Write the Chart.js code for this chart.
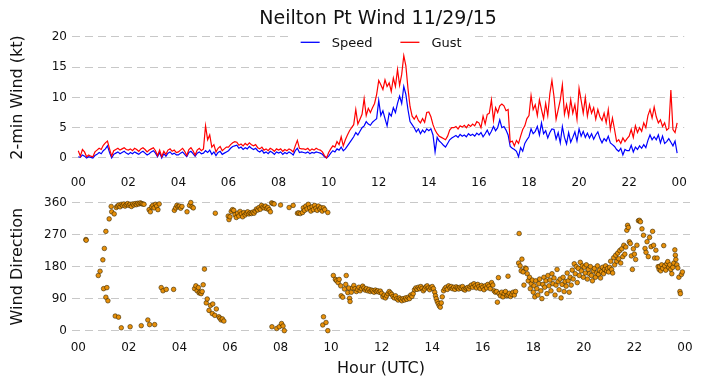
<!DOCTYPE html>
<html>
<head>
<meta charset="utf-8">
<script src="https://cdn.jsdelivr.net/npm/chart.js@4.4.0/dist/chart.umd.min.js"></script>
<style>
  body { margin: 0; background: #fff; }
  #wrap { position: relative; width: 702px; height: 388px; }
  #wind { position: absolute; left: 0; top: 0; }
  #dir { position: absolute; left: 0; top: 185px; }
</style>
</head>
<body>
<div id="wrap">
  <canvas id="wind" width="702" height="190"></canvas>
  <canvas id="dir" width="702" height="203"></canvas>
</div>
<script>
// Neilton Pt wind, 11/29/15 (UTC)

const stepMin = 5   // minutes between speed/gust samples
const hourTicks = [0, 2, 4, 6, 8, 10, 12, 14, 16, 18, 20, 22, 24]
const speedTicks = [0, 5, 10, 15, 20]
const dirTicks = [0, 90, 180, 270, 360]

// 2-min speed (kt), one row per hour
const speed = [
    0.2, 0.1, 0.5, 0.3, 0, 0.2, 0.1, 0, 0.4, 0.6, 0.9, 0.7,
    1.2, 1.5, 2.0, 0.9, 0, 0.6, 0.8, 1.0, 0.7, 0.9, 1.1, 0.8,
    0.6, 0.9, 0.7, 1.0, 0.8, 0.6, 0.9, 1.1, 0.8, 0.5, 0.7, 1.0,
    1.2, 0.8, 0.2, 0.9, 0, 0.7, 0.3, 0.8, 1.0, 0.6, 0.8, 0.5,
    0.5, 0.8, 1.0, 0.6, 0.2, 0.9, 1.1, 0.7, 0.3, 0.8, 1.0, 0.7,
    0.8, 1.2, 0.9, 1.3, 0.6, 1.0, 0.4, 0.9, 1.1, 0.6, 0.8, 1.0,
    1.2, 1.6, 1.9, 2.0, 2.1, 1.6, 1.8, 1.4, 1.7, 1.5, 1.9, 1.6,
    1.4, 1.6, 1.2, 1.0, 1.3, 0.8, 1.0, 0.7, 1.1, 0.9, 0.6, 1.0,
    0.8, 1.0, 0.6, 0.9, 0.7, 1.0, 0.8, 0.5, 1.2, 1.6, 0.9, 1.0,
    0.9, 0.8, 1.0, 0.7, 0.9, 0.8, 1.0, 0.9, 0.8, 0.6, 0.2, 0,
    0.3, 0.8, 1.2, 1.0, 1.5, 1.3, 1.8, 1.2, 1.5, 2.0, 2.5, 3.0,
    3.5, 4.2, 3.8, 4.4, 5.0, 5.3, 6.0, 5.6, 5.4, 5.9, 6.2, 6.5,
    9.5, 7.0, 7.8, 6.5, 5.3, 7.4, 6.9, 8.3, 7.5, 9.0, 10.2, 9.0,
    11.8, 10.5, 8.0, 6.0, 5.5, 5.0, 4.3, 4.8, 4.0, 4.6, 4.2, 4.8,
    4.5, 4.8, 3.8, 1.0, 3.4, 2.8, 2.5, 2.1, 1.8, 2.4, 3.0, 3.3,
    3.5, 3.7, 3.4, 3.9, 3.6, 3.8, 3.5, 4.0, 3.7, 3.9, 3.6, 4.1,
    3.8, 4.2, 3.5, 4.0, 4.6, 3.8, 4.4, 5.2, 4.5, 5.0, 6.3, 5.0,
    5.2, 4.6, 3.8, 1.9, 1.6, 1.4, 1.1, 0.2, 1.7, 1.1, 2.4, 3.0,
    3.5, 4.8, 4.0, 4.4, 5.2, 3.8, 5.8, 4.0, 4.5, 3.3, 4.2, 4.8,
    4.7, 3.1, 4.2, 2.5, 5.2, 3.4, 2.3, 4.2, 2.6, 3.4, 4.3, 2.8,
    4.8, 3.6, 4.4, 3.4, 4.1, 3.3, 4.0, 3.1, 3.8, 4.3, 3.2, 2.5,
    3.2, 2.8, 3.6, 2.5, 2.2, 1.9, 1.4, 1.1, 1.6, 0.5, 1.4, 1.2,
    1.2, 2.1, 1.0, 1.8, 1.4, 2.0, 1.6, 2.2, 1.7, 2.9, 3.8, 3.0,
    3.5, 3.0, 3.8, 2.5, 3.6, 2.4, 2.7, 3.2, 2.6, 2.0, 2.8, 0.8
]

// gust (kt), one row per hour
const gust = [
    1.2, 0.3, 1.4, 1.0, 0.2, 0.5, 0.3, 0.2, 1.0, 1.3, 1.6, 1.4,
    2.1, 2.5, 2.8, 1.5, 0.3, 1.2, 1.4, 1.6, 1.3, 1.5, 1.7, 1.4,
    1.3, 1.5, 1.2, 1.6, 1.4, 1.1, 1.5, 1.7, 1.4, 1.0, 1.3, 1.5,
    1.7, 1.2, 0.4, 1.3, 0.2, 1.1, 0.6, 1.3, 1.5, 1.1, 1.3, 0.9,
    1.0, 1.3, 1.6, 1.1, 0.4, 1.4, 1.7, 1.2, 0.5, 1.3, 1.6, 1.2,
    1.5, 5.3, 3.0, 3.8, 1.8, 2.2, 1.0, 1.6, 1.9, 1.2, 1.5, 1.8,
    1.8, 2.2, 2.5, 2.7, 2.6, 2.1, 2.3, 2.0, 2.4, 2.1, 2.5, 2.2,
    2.0, 2.2, 1.7, 1.5, 1.8, 1.3, 1.5, 1.2, 1.6, 1.4, 1.1, 1.5,
    1.3, 1.5, 1.1, 1.4, 1.2, 1.5, 1.3, 1.0, 2.0, 2.9, 1.6, 1.5,
    1.5, 1.4, 1.6, 1.2, 1.5, 1.3, 1.6, 1.4, 1.3, 1.0, 0.4, 0,
    0.9, 1.5, 2.0, 1.8, 2.7, 2.2, 3.5, 2.0, 3.0, 3.8, 4.5, 5.0,
    5.5, 8.0, 5.6, 6.4, 7.2, 9.8, 7.0, 8.2, 7.5, 8.3, 9.0, 10.5,
    12.8, 12.1, 11.3, 12.9, 11.8, 12.4, 11.0, 13.2, 11.8, 14.6, 12.0, 13.8,
    16.9, 15.2, 11.5, 8.5, 6.9, 6.4, 7.0, 6.2, 5.8, 6.5, 5.9, 7.5,
    7.6, 6.8, 5.5, 4.6, 4.0, 3.6, 3.4, 3.2, 3.0, 3.6, 4.6, 5.0,
    5.0, 5.2, 4.8, 5.3, 5.1, 5.4, 5.0, 5.5, 5.2, 5.6, 5.3, 6.0,
    5.8, 5.0, 6.9, 5.6, 7.2, 7.4, 9.6, 6.2, 8.3, 7.5, 8.6, 8.9,
    8.6, 7.8, 8.0, 2.6, 2.8, 2.0, 2.9, 2.4, 3.6, 4.7, 5.3, 6.5,
    7.0, 10.3, 8.0, 8.8, 7.0, 9.6, 8.0, 6.5, 9.0, 7.0, 10.6, 12.8,
    10.1, 6.4, 8.0, 9.6, 12.1, 7.2, 8.8, 6.9, 9.6, 7.4, 8.8, 6.4,
    11.5, 9.5, 7.4, 10.0, 6.9, 8.8, 7.4, 8.3, 6.4, 8.0, 6.8, 6.2,
    7.4, 5.8, 8.0, 4.7, 6.6, 4.7, 2.7, 3.0, 2.4, 3.3, 2.7, 3.2,
    3.6, 4.7, 3.4, 5.3, 4.2, 5.0, 4.4, 5.8, 5.0, 7.0, 8.0, 6.6,
    8.4, 6.8, 5.8, 6.3, 5.2, 5.8, 4.6, 4.9, 11.2, 4.7, 4.2, 5.8
]

// wind direction readings: [hour UTC, degrees]
const direction = [
    [0.30, 256], [0.31, 254],
    [0.79, 155], [0.86, 167], [0.97, 199], [1.00, 118], [1.03, 231], [1.09, 279], [1.09, 94], [1.13, 121],
    [1.17, 84], [1.22, 314], [1.30, 349], [1.32, 334], [1.42, 328], [1.46, 41], [1.59, 38], [1.70, 8],
    [1.50, 346], [1.55, 350], [1.60, 353], [1.65, 348], [1.70, 355], [1.75, 352], [1.80, 356], [1.85, 350],
    [1.90, 354], [1.95, 357], [2.00, 352], [2.05, 355], [2.10, 349], [2.15, 356], [2.20, 353], [2.25, 357],
    [2.30, 354], [2.35, 358], [2.40, 356], [2.45, 359], [2.50, 357], [2.55, 356], [2.60, 355],
    [2.05, 11], [2.49, 14], [2.75, 30], [2.82, 17], [3.02, 17],
    [2.80, 340], [2.85, 334], [2.90, 348], [2.95, 352], [3.00, 345], [3.05, 355], [3.10, 350], [3.15, 340], [3.20, 356],
    [3.28, 121], [3.35, 112], [3.48, 116], [3.77, 116],
    [3.80, 338], [3.85, 345], [3.90, 352], [3.95, 348], [4.00, 350], [4.05, 344], [4.10, 349],
    [4.30, 334], [4.40, 352], [4.45, 360], [4.50, 348], [4.55, 345],
    [4.60, 118], [4.65, 126], [4.70, 112], [4.75, 121], [4.78, 106], [4.82, 108], [4.86, 104], [4.90, 110],
    [4.94, 129], [4.99, 173],
    [5.06, 78], [5.10, 89], [5.17, 57], [5.23, 71], [5.30, 48], [5.32, 75], [5.40, 43], [5.46, 61],
    [5.56, 39], [5.60, 35], [5.65, 30], [5.70, 33], [5.76, 27],
    [5.42, 330],
    [5.93, 322], [5.96, 312], [6.00, 320], [6.05, 335], [6.10, 340], [6.15, 338], [6.20, 326], [6.25, 318],
    [6.30, 330], [6.35, 322], [6.40, 335], [6.45, 328], [6.50, 320], [6.55, 332], [6.60, 325], [6.65, 330],
    [6.70, 334], [6.75, 328], [6.80, 331], [6.85, 329], [6.90, 333], [6.95, 330], [7.00, 336], [7.05, 342],
    [7.10, 339], [7.15, 346], [7.20, 341], [7.25, 352], [7.30, 347], [7.35, 345], [7.40, 350], [7.45, 343],
    [7.50, 346], [7.55, 340], [7.60, 334], [7.65, 359], [7.70, 357], [7.75, 356],
    [7.66, 11], [7.85, 6], [7.95, 11], [8.04, 20], [8.10, 13], [8.15, 0],
    [8.00, 353], [8.34, 346], [8.50, 352],
    [8.67, 330], [8.72, 331], [8.78, 329], [8.87, 332],
    [8.90, 345], [8.95, 338], [9.00, 350], [9.05, 342], [9.10, 355], [9.15, 345], [9.20, 336], [9.25, 348],
    [9.30, 340], [9.35, 352], [9.40, 344], [9.45, 338], [9.50, 350], [9.55, 342], [9.60, 346], [9.65, 336],
    [9.70, 345], [9.75, 340], [9.87, 332],
    [9.67, 16], [9.70, 39], [9.80, 23], [9.87, 0],
    [10.09, 155], [10.17, 144], [10.22, 140], [10.28, 135], [10.32, 144], [10.38, 126], [10.40, 98], [10.46, 94],
    [10.53, 117], [10.58, 130], [10.60, 155], [10.66, 107], [10.70, 120], [10.73, 91], [10.75, 82], [10.80, 108],
    [10.85, 120], [10.90, 127], [10.95, 118], [11.00, 110], [11.05, 116], [11.10, 122], [11.15, 112], [11.20, 118],
    [11.25, 125], [11.30, 120], [11.35, 114], [11.40, 118], [11.45, 112], [11.50, 116], [11.55, 110], [11.60, 114],
    [11.65, 112], [11.70, 108], [11.75, 114], [11.80, 110], [11.85, 112], [11.90, 108], [11.95, 111],
    [12.00, 105], [12.05, 95], [12.10, 100], [12.15, 92], [12.20, 98], [12.25, 104], [12.30, 110], [12.35, 106],
    [12.40, 102], [12.45, 96], [12.50, 92], [12.55, 98], [12.60, 90], [12.65, 86], [12.70, 92], [12.75, 88],
    [12.80, 84], [12.85, 90], [12.90, 86], [12.95, 92], [13.00, 88], [13.05, 94], [13.10, 90], [13.15, 100],
    [13.20, 96], [13.25, 104],
    [13.30, 115], [13.35, 120], [13.40, 116], [13.45, 122], [13.50, 118], [13.55, 124], [13.60, 119], [13.65, 112],
    [13.70, 117], [13.75, 123], [13.80, 126], [13.85, 120], [13.90, 115], [13.95, 121], [14.00, 124], [14.05, 118],
    [14.10, 108], [14.13, 98], [14.16, 90], [14.20, 82], [14.24, 76], [14.28, 70], [14.32, 66], [14.36, 78], [14.40, 95],
    [14.45, 112], [14.50, 118], [14.55, 122], [14.60, 116], [14.65, 126], [14.70, 121], [14.75, 124], [14.80, 118],
    [14.85, 122], [14.90, 116], [14.95, 123], [15.00, 120], [15.05, 117], [15.10, 122], [15.15, 119], [15.20, 124],
    [15.25, 116], [15.30, 114], [15.35, 119], [15.40, 121], [15.45, 117],
    [15.50, 124], [15.55, 128], [15.60, 122], [15.65, 132], [15.70, 126], [15.75, 120], [15.80, 130], [15.85, 124],
    [15.90, 118], [15.95, 127], [16.00, 122], [16.05, 115], [16.10, 126], [16.15, 120], [16.20, 130], [16.25, 125],
    [16.30, 118], [16.35, 135], [16.40, 128],
    [16.45, 112], [16.50, 108], [16.55, 110], [16.58, 80], [16.62, 149], [16.65, 104], [16.70, 98], [16.75, 108],
    [16.80, 95], [16.85, 104], [16.90, 110], [16.95, 98], [17.00, 153], [17.00, 100], [17.05, 105], [17.10, 96],
    [17.15, 102], [17.20, 108], [17.25, 100], [17.30, 110],
    [17.44, 273], [17.42, 190], [17.48, 182], [17.52, 168], [17.55, 201], [17.60, 165], [17.63, 128], [17.68, 176],
    [17.72, 174], [17.76, 160], [17.80, 140],
    [17.85, 150], [17.88, 118], [17.92, 132], [17.96, 142], [18.00, 108], [18.03, 126], [18.06, 95], [18.10, 140],
    [18.14, 118], [18.18, 100], [18.22, 132], [18.25, 145], [18.30, 112], [18.34, 90], [18.38, 130], [18.42, 150],
    [18.45, 122], [18.50, 140], [18.54, 104], [18.58, 155], [18.62, 126], [18.66, 142], [18.70, 112], [18.74, 160],
    [18.78, 132], [18.82, 148], [18.86, 100], [18.90, 128], [18.94, 172], [18.98, 138],
    [19.02, 115], [19.06, 145], [19.10, 92], [19.14, 130], [19.18, 150], [19.22, 110], [19.26, 138], [19.30, 125],
    [19.34, 162], [19.38, 140], [19.42, 108], [19.46, 150], [19.50, 128], [19.54, 170], [19.58, 145], [19.62, 188],
    [19.66, 160], [19.70, 180], [19.74, 135], [19.78, 175], [19.82, 155], [19.86, 192], [19.90, 168], [19.94, 182],
    [19.98, 150],
    [20.02, 178], [20.06, 162], [20.10, 185], [20.14, 145], [20.18, 172], [20.22, 160], [20.26, 180], [20.30, 155],
    [20.34, 140], [20.38, 168], [20.42, 175], [20.46, 150], [20.50, 162], [20.54, 182], [20.58, 158], [20.62, 170],
    [20.66, 148], [20.70, 165], [20.74, 178], [20.78, 160], [20.82, 172], [20.86, 182], [20.90, 168], [20.94, 175],
    [20.98, 165],
    [21.02, 178], [21.06, 195], [21.10, 172], [21.14, 162], [21.18, 205], [21.22, 185], [21.26, 212], [21.30, 195],
    [21.34, 218], [21.38, 202], [21.42, 225], [21.46, 190], [21.50, 230], [21.54, 208], [21.58, 240], [21.62, 215],
    [21.66, 235],
    [21.70, 282], [21.73, 296], [21.76, 290], [21.80, 250], [21.84, 245], [21.88, 210], [21.92, 172], [21.96, 230],
    [22.00, 215], [22.05, 200], [22.10, 240], [22.16, 309], [22.20, 310], [22.24, 306], [22.30, 286], [22.36, 268],
    [22.42, 231], [22.46, 220], [22.50, 250], [22.55, 208], [22.60, 262], [22.66, 236], [22.72, 279], [22.76, 240],
    [22.80, 204], [22.85, 226], [22.90, 204], [22.94, 180], [22.98, 172],
    [23.00, 180], [23.04, 168], [23.08, 185], [23.12, 175], [23.16, 239], [23.20, 182], [23.24, 170], [23.28, 188],
    [23.32, 194], [23.36, 178], [23.40, 185], [23.44, 172], [23.48, 160], [23.52, 178], [23.56, 190], [23.60, 227],
    [23.62, 212], [23.64, 200], [23.68, 185], [23.72, 176], [23.76, 150], [23.80, 110], [23.82, 104], [23.86, 158],
    [23.90, 165]
]

Chart.defaults.font.family = '"DejaVu Sans", sans-serif'
Chart.defaults.color = '#111'

const hourLabel = v => String(v % 24).padStart(2, '0')
const setTicks = list => scale => { scale.ticks = list.map(v => ({ value: v })) }

const xAxis = (height, pad, title) => ({
    type: 'linear',
    min: -0.25,
    max: 24.2,
    afterBuildTicks: setTicks(hourTicks),
    afterFit: s => { s.height = height },
    grid: { display: false, drawTicks: false },
    border: { display: false },
    ticks: { callback: hourLabel, padding: pad, font: { size: 12 }, color: '#111', maxRotation: 0, autoSkip: false },
    title: title
})

const yAxis = (min, max, ticks, text) => ({
    min: min,
    max: max,
    afterBuildTicks: setTicks(ticks),
    afterFit: s => { s.width = 72 },
    grid: { color: '#c8c8c8', lineWidth: 1, drawTicks: false, borderDash: [8, 5] },
    border: { display: false, dash: [8, 5], dashOffset: 0 },
    ticks: { padding: 5, font: { size: 12 }, color: '#111' },
    title: { display: true, text: text, font: { size: 16 }, color: '#111', padding: { top: 8, bottom: 0 } }
})

// matplotlib-like legend sitting inside the top of the plot
const innerLegend = {
    id: 'innerLegend',
    afterDraw(chart) {
        const { ctx, chartArea } = chart
        const sets = chart.data.datasets
        ctx.save()
        ctx.font = '13px "DejaVu Sans"'
        const lineW = 19, gap = 12, between = 28
        const widths = sets.map(d => lineW + gap + ctx.measureText(d.label).width)
        const total = widths.reduce((a, b) => a + b, 0) + between * (sets.length - 1)
        let x = (chartArea.left + chartArea.right) / 2 - total / 2 + 3
        const y = chartArea.top + 8.5
        ctx.fillStyle = '#fff'
        ctx.fillRect(x - 9, y - 11, total + 18, 21)
        ctx.textBaseline = 'middle'
        sets.forEach((d, i) => {
            ctx.strokeStyle = d.borderColor
            ctx.lineWidth = 1.3
            ctx.beginPath()
            ctx.moveTo(x, y)
            ctx.lineTo(x + lineW, y)
            ctx.stroke()
            ctx.fillStyle = '#111'
            ctx.fillText(d.label, x + lineW + gap, y + 1)
            x += widths[i] + between
        })
        ctx.restore()
    }
}

const windChart = new Chart(document.getElementById('wind'), {
    type: 'line',
    data: {
        datasets: [{
            label: 'Speed',
            data: speed.map((v, i) => ({ x: i * stepMin / 60, y: v })),
            borderColor: '#0000ff',
            borderWidth: 1.2,
            pointRadius: 0,
            order: 1,
            clip: 3
        }, {
            label: 'Gust',
            data: gust.map((v, i) => ({ x: i * stepMin / 60, y: v })),
            borderColor: '#ff0000',
            borderWidth: 1.2,
            pointRadius: 0,
            order: 0,
            clip: 3
        }]
    },
    options: {
        responsive: false,
        animation: false,
        layout: { padding: { left: 0, right: 12, top: 0, bottom: 0 } },
        plugins: {
            legend: { display: false },
            tooltip: { enabled: false },
            title: {
                display: true,
                fullSize: false,
                text: 'Neilton Pt Wind 11/29/15',
                color: '#111',
                font: { size: 19, weight: 'normal' },
                padding: { top: 8, bottom: 3 }
            }
        },
        scales: {
            x: xAxis(29, 15, { display: false }),
            y: yAxis(-0.5, 20.5, speedTicks, '2-min Wind (kt)')
        }
    },
    plugins: [innerLegend]
})

const dirChart = new Chart(document.getElementById('dir'), {
    type: 'scatter',
    data: {
        datasets: [{
            label: 'Direction',
            data: direction.map(([h, d]) => ({ x: h, y: d })),
            backgroundColor: '#e8900a',
            borderColor: '#3a2800',
            borderWidth: 0.6,
            pointRadius: 2.3
        }]
    },
    options: {
        responsive: false,
        animation: false,
        layout: { padding: { left: 0, right: 12, top: 9.5, bottom: 0 } },
        plugins: { legend: { display: false }, tooltip: { enabled: false } },
        scales: {
            x: xAxis(52, 5, { display: true, text: 'Hour (UTC)', font: { size: 16 }, color: '#111', padding: { top: 0, bottom: 10 } }),
            y: yAxis(-15, 375, dirTicks, 'Wind Direction')
        }
    }
})
</script>
</body>
</html>
